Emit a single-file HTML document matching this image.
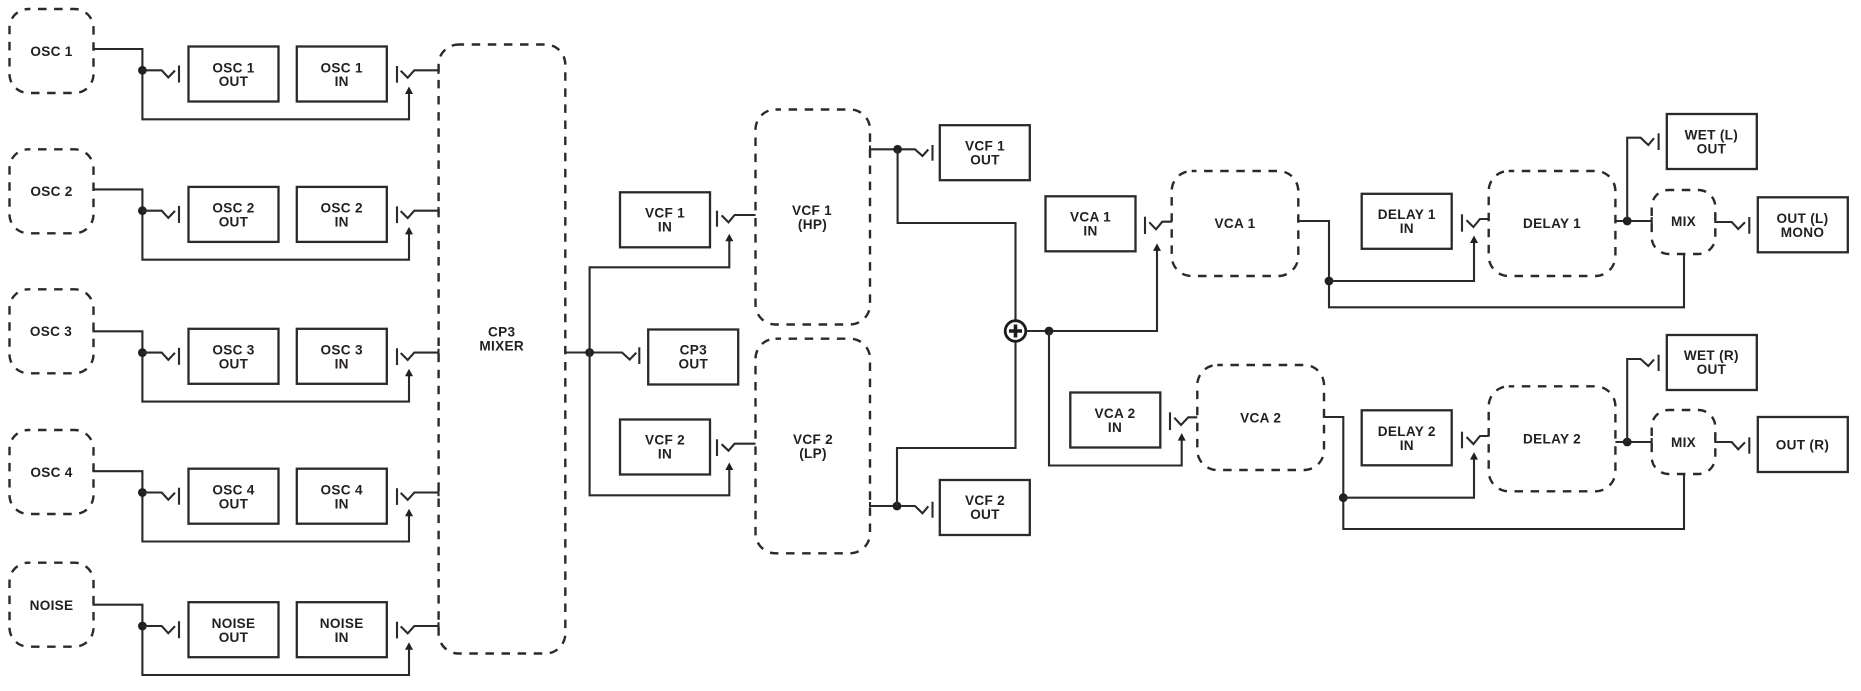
<!DOCTYPE html>
<html>
<head>
<meta charset="utf-8">
<title>CP3 Signal Flow</title>
<style>
html,body{margin:0;padding:0;background:#fff;width:1861px;height:691px;overflow:hidden}
svg{display:block}
text{font-family:"Liberation Sans",sans-serif;font-weight:700;font-size:13.6px;fill:#231f20;text-anchor:middle;letter-spacing:.3px}
.w{fill:none;stroke:#2b2a2a;stroke-width:2.1;stroke-linejoin:miter}
.b{fill:none;stroke:#2b2a2a;stroke-width:2.3}
.d{fill:none;stroke:#2b2a2a;stroke-width:2.4;stroke-dasharray:8.5 7.6}
.f{fill:#231f20;stroke:none}
</style>
</head>
<body>
<svg width="1861" height="691" viewBox="0 0 1861 691" xmlns="http://www.w3.org/2000/svg">
<rect width="1861" height="691" fill="#fff"/>
<defs>
<g id="row">
<path class="w" d="M93.5 45V49H142.4V119.3H409V92"/>
<circle class="f" cx="142.4" cy="70.3" r="4.4"/>
<path class="w" d="M142.4 70.3H161.7L168.3 77.5L175 70.5"/>
<path class="w" d="M179 65.5V82.5"/>
<rect class="b" x="188.5" y="46.5" width="90" height="55"/>
<rect class="b" x="296.8" y="46.5" width="90" height="55"/>
<path class="w" d="M397 66V82.7"/>
<path class="w" d="M400.7 70.7L407.7 77.7L414.3 70.3H438.5M438.5 66.5V74"/>
<polygon class="f" points="409,86.5 405,94 413,94"/>
</g>
</defs>

<!-- OSC dashed sources -->
<rect class="d" x="9.5" y="9" width="84" height="84" rx="19" stroke-dashoffset="6.6"/>
<rect class="d" x="9.5" y="149.3" width="84" height="84" rx="19" stroke-dashoffset="6.6"/>
<rect class="d" x="9.5" y="289.3" width="84" height="84" rx="19" stroke-dashoffset="6.6"/>
<rect class="d" x="9.5" y="430" width="84" height="84" rx="19" stroke-dashoffset="6.6"/>
<rect class="d" x="9.5" y="562.7" width="84" height="84" rx="19" stroke-dashoffset="6.6"/>
<text x="51.5" y="56">OSC 1</text>
<text x="51.5" y="196">OSC 2</text>
<text x="51" y="336">OSC 3</text>
<text x="51.5" y="477.2">OSC 4</text>
<text x="51.5" y="610">NOISE</text>

<!-- Rows -->
<use href="#row"/>
<use href="#row" y="140.4"/>
<use href="#row" y="282.3"/>
<use href="#row" y="422.2"/>
<use href="#row" y="555.7"/>
<text x="233.5" y="72.3">OSC 1</text><text x="233.5" y="86.2">OUT</text>
<text x="341.7" y="72.3">OSC 1</text><text x="341.7" y="86.2">IN</text>
<text x="233.5" y="212.7">OSC 2</text><text x="233.5" y="226.6">OUT</text>
<text x="341.7" y="212.7">OSC 2</text><text x="341.7" y="226.6">IN</text>
<text x="233.5" y="354.6">OSC 3</text><text x="233.5" y="368.5">OUT</text>
<text x="341.7" y="354.6">OSC 3</text><text x="341.7" y="368.5">IN</text>
<text x="233.5" y="494.5">OSC 4</text><text x="233.5" y="508.4">OUT</text>
<text x="341.7" y="494.5">OSC 4</text><text x="341.7" y="508.4">IN</text>
<text x="233.5" y="628">NOISE</text><text x="233.5" y="641.9">OUT</text>
<text x="341.7" y="628">NOISE</text><text x="341.7" y="641.9">IN</text>

<!-- CP3 Mixer -->
<rect class="d" x="438.6" y="44.5" width="126.7" height="609" rx="20" stroke-dashoffset="3"/>
<text x="501.7" y="336.5">CP3</text><text x="501.7" y="350.4">MIXER</text>

<!-- CP3 out junction -->
<path class="w" d="M565.3 348.5V352.5H622L629.7 359.5L636.3 352.7"/>
<path class="w" d="M639.3 347.3V364"/>
<circle class="f" cx="589.6" cy="352.5" r="4.4"/>
<rect class="b" x="648.2" y="329.5" width="90" height="55"/>
<text x="693.3" y="354.3">CP3</text><text x="693.3" y="368.3">OUT</text>
<path class="w" d="M729.3 239V267.3H589.6V495.3H729.3V468"/>
<polygon class="f" points="729.3,233.8 725.3,241.3 733.3,241.3"/>
<polygon class="f" points="729.3,462.5 725.3,470 733.3,470"/>

<!-- VCF IN -->
<rect class="b" x="620" y="192.3" width="90" height="55"/>
<text x="665" y="217.4">VCF 1</text><text x="665" y="231.4">IN</text>
<path class="w" d="M717 210.7V226.7"/>
<path class="w" d="M721.6 215.4L728.5 222.3L734.6 215H755.5"/>
<rect class="b" x="620" y="419.5" width="90" height="55"/>
<text x="665" y="444.7">VCF 2</text><text x="665" y="458.7">IN</text>
<path class="w" d="M717 439.3V456"/>
<path class="w" d="M721.6 444.2L728.5 450.7L734.6 443.7H755.5"/>

<!-- VCF blocks -->
<rect class="d" x="755.5" y="109.5" width="114.5" height="215" rx="20" stroke-dashoffset="3"/>
<text x="812" y="214.8">VCF 1</text><text x="812.5" y="229">(HP)</text>
<rect class="d" x="755.5" y="338.7" width="114.5" height="214.6" rx="20" stroke-dashoffset="3"/>
<text x="813" y="444.2">VCF 2</text><text x="813" y="458.2">(LP)</text>

<!-- VCF outs -->
<path class="w" d="M870 145.5V149.3H915L922.5 156L928.3 149.5"/>
<path class="w" d="M932.5 145V160.7"/>
<circle class="f" cx="897.6" cy="149.3" r="4.4"/>
<rect class="b" x="939.8" y="125.2" width="90" height="55"/>
<text x="985" y="150.5">VCF 1</text><text x="985" y="164.5">OUT</text>
<path class="w" d="M897.6 149.3V223H1015.5V320"/>

<path class="w" d="M870 502V506H915L922.5 513.3L928.3 506.3"/>
<path class="w" d="M932.5 501.7V517.7"/>
<circle class="f" cx="897" cy="506" r="4.4"/>
<rect class="b" x="939.8" y="480" width="90" height="55"/>
<text x="985" y="505.2">VCF 2</text><text x="985" y="519.2">OUT</text>
<path class="w" d="M897 506V448H1015.5V342"/>

<!-- Sum -->
<circle cx="1015.5" cy="331" r="10.3" fill="#fff" stroke="#1c1b1b" stroke-width="2.8"/>
<path d="M1009 331H1022M1015.5 324.5V337.5" fill="none" stroke="#1c1b1b" stroke-width="3.6"/>
<path class="w" d="M1026 331H1157V249"/>
<polygon class="f" points="1157,243.4 1153,250.9 1161,250.9"/>
<circle class="f" cx="1049" cy="331" r="4.4"/>
<path class="w" d="M1049 331V465.5H1181.7V438"/>
<polygon class="f" points="1181.7,433.1 1177.7,440.6 1185.7,440.6"/>

<!-- VCA 1 -->
<rect class="b" x="1045.5" y="196.3" width="90" height="55"/>
<text x="1090.5" y="221.5">VCA 1</text><text x="1090.5" y="235.3">IN</text>
<path class="w" d="M1145 216.7V234"/>
<path class="w" d="M1149.3 222.3L1156 229.3L1162.3 221.7H1171.7"/>
<rect class="d" x="1171.7" y="171" width="126.6" height="105" rx="20" stroke-dashoffset="3.7"/>
<text x="1235" y="228">VCA 1</text>
<path class="w" d="M1298.3 217V221H1329V307.3H1684V253"/>
<circle class="f" cx="1329" cy="281" r="4.4"/>
<path class="w" d="M1329 281H1474V240"/>
<polygon class="f" points="1474,235.5 1470,243 1478,243"/>

<!-- VCA 2 -->
<rect class="b" x="1070.3" y="392.5" width="90" height="55"/>
<text x="1115" y="418">VCA 2</text><text x="1115" y="432">IN</text>
<path class="w" d="M1170 412.3V430"/>
<path class="w" d="M1174.3 417.7L1181 425L1188.3 417.3H1197.3"/>
<rect class="d" x="1197.3" y="365" width="126.7" height="105" rx="20" stroke-dashoffset="3"/>
<text x="1260.7" y="422.5">VCA 2</text>
<path class="w" d="M1324 413V417H1343.3V529H1684V474"/>
<circle class="f" cx="1343.3" cy="497.7" r="4.4"/>
<path class="w" d="M1343.3 497.7H1474V457"/>
<polygon class="f" points="1474,452.1 1470,459.6 1478,459.6"/>

<!-- DELAY 1 -->
<rect class="b" x="1361.7" y="193.8" width="90" height="55"/>
<text x="1406.8" y="219">DELAY 1</text><text x="1406.8" y="233">IN</text>
<path class="w" d="M1462 214.3V231.7"/>
<path class="w" d="M1466.5 220.3L1473.4 227L1480 219H1488.7"/>
<rect class="d" x="1488.7" y="171" width="126.7" height="105" rx="20" stroke-dashoffset="3"/>
<text x="1552" y="228">DELAY 1</text>
<path class="w" d="M1615.4 221H1651.7M1651.7 217V225"/>
<circle class="f" cx="1627.2" cy="221" r="4.4"/>
<path class="w" d="M1627.2 221V137.7H1640.6L1648.3 145L1654 138.2"/>
<path class="w" d="M1658.6 133.3V150"/>
<rect class="b" x="1666.8" y="114" width="90" height="55"/>
<text x="1711.4" y="139.5">WET (L)</text><text x="1711.4" y="153.5">OUT</text>
<rect class="d" x="1651.7" y="190" width="63.6" height="64" rx="17" stroke-dashoffset="3"/>
<text x="1683.5" y="226.2">MIX</text>
<path class="w" d="M1715.3 218V222H1731.7L1738.2 229L1745 222.3"/>
<path class="w" d="M1749.3 217V233.7"/>
<rect class="b" x="1757.8" y="197.3" width="90" height="55"/>
<text x="1802.5" y="223">OUT (L)</text><text x="1802.5" y="237">MONO</text>

<!-- DELAY 2 -->
<rect class="b" x="1361.7" y="410.3" width="90" height="55"/>
<text x="1406.8" y="435.8">DELAY 2</text><text x="1406.8" y="449.8">IN</text>
<path class="w" d="M1462 431.7V448.3"/>
<path class="w" d="M1466.5 437L1473.4 444L1480 436H1488.7"/>
<rect class="d" x="1488.7" y="386.3" width="126.7" height="105" rx="20" stroke-dashoffset="3"/>
<text x="1552" y="443.5">DELAY 2</text>
<path class="w" d="M1615.4 442H1651.7M1651.7 438V446"/>
<circle class="f" cx="1627.2" cy="442" r="4.4"/>
<path class="w" d="M1627.2 442V359H1640.6L1648.3 366L1654 359.5"/>
<path class="w" d="M1658.6 354.7V371"/>
<rect class="b" x="1666.8" y="335" width="90" height="55"/>
<text x="1711.4" y="360.2">WET (R)</text><text x="1711.4" y="374.2">OUT</text>
<rect class="d" x="1651.7" y="410" width="63.6" height="64" rx="17" stroke-dashoffset="3"/>
<text x="1683.5" y="447">MIX</text>
<path class="w" d="M1715.3 438V442H1731.7L1738.2 449.3L1745 442.3"/>
<path class="w" d="M1749.3 437.3V453.7"/>
<rect class="b" x="1757.8" y="417" width="90" height="55"/>
<text x="1802.5" y="449.6">OUT (R)</text>
</svg>
</body>
</html>
